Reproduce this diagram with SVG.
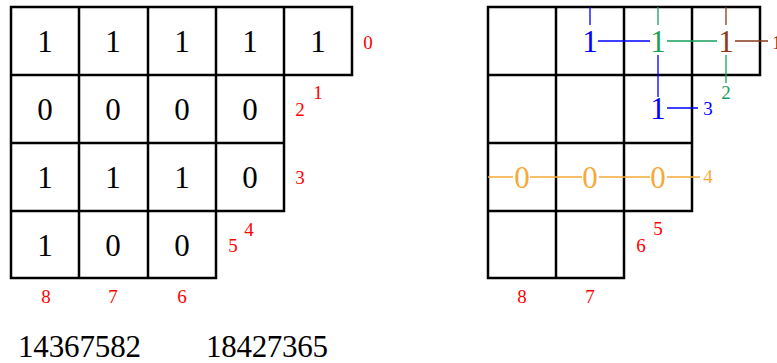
<svg xmlns="http://www.w3.org/2000/svg" width="777" height="363" viewBox="0 0 777 363">
<style>
.g{fill:none;stroke:#000;stroke-width:2.5;stroke-linecap:square}
.big{font-family:"Liberation Serif","DejaVu Serif",serif;font-size:31px;text-anchor:middle}
.sm{font-family:"Liberation Serif","DejaVu Serif",serif;font-size:19px;text-anchor:middle}
.red{fill:#ff0000}
.bl{stroke:#0000ff;stroke-width:1.3;fill:none}
.gr{stroke:#1aa05c;stroke-width:1.3;fill:none}
.br{stroke:#8b3a1a;stroke-width:1.3;fill:none}
.or{stroke:#f5aa3a;stroke-width:1.3;fill:none}
</style>
<rect width="777" height="363" fill="#fff"/>
<g id="left-grid">
<path class="g" d="M11 7H352V75H11ZM11 75H284V143H11ZM11 143H284V211H11ZM11 211H216V278H11Z M79 7V278 M148 7V278 M216 7V211 M284 7V75"/>
<g class="big" fill="#000">
<text x="45" y="52">1</text><text x="113" y="52">1</text><text x="182" y="52">1</text><text x="250" y="52">1</text><text x="318" y="52">1</text>
<text x="45" y="120">0</text><text x="113" y="120">0</text><text x="182" y="120">0</text><text x="250" y="120">0</text>
<text x="45" y="188">1</text><text x="113" y="188">1</text><text x="182" y="188">1</text><text x="250" y="188">0</text>
<text x="45" y="256">1</text><text x="113" y="256">0</text><text x="182" y="256">0</text>
</g>
<g class="sm red">
<text x="368" y="49">0</text><text x="318" y="99">1</text><text x="300" y="116">2</text><text x="300" y="184">3</text>
<text x="249" y="236">4</text><text x="233" y="252">5</text>
<text x="46" y="303">8</text><text x="113" y="303">7</text><text x="182" y="303">6</text>
</g>
</g>
<g id="right-grid">
<path class="g" d="M488 7H760V75H488ZM488 75H692V143H488ZM488 143H692V211H488ZM488 211H624V278H488Z M556 7V278 M624 7V278 M692 7V75"/>
</g>
<g id="connectors">
<path class="bl" d="M590 7V25 M598 41H650 M658 55V97 M667 108H698"/>
<path class="gr" d="M658 7V25 M667 41H717 M726 55V83"/>
<path class="br" d="M726 7V25 M735 41H768"/>
<path class="or" d="M488 177H513 M530 177H582 M599 177H650 M667 177H700"/>
</g>
<g id="right-labels">
<text class="big" x="590" y="52" fill="#0000ff">1</text>
<text class="big" x="658" y="52" fill="#1aa05c">1</text>
<text class="big" x="726" y="52" fill="#8b3a1a">1</text>
<text class="sm" x="772" y="49" fill="#8b3a1a" text-anchor="start" style="text-anchor:start">1</text>
<text class="big" x="658" y="119" fill="#0000ff">1</text>
<text class="sm" x="708" y="115" fill="#0000ff">3</text>
<text class="sm" x="726" y="99" fill="#1aa05c">2</text>
<text class="big" x="522" y="188" fill="#f5aa3a">0</text>
<text class="big" x="590" y="188" fill="#f5aa3a">0</text>
<text class="big" x="658" y="188" fill="#f5aa3a">0</text>
<text class="sm" x="708" y="183" fill="#f5aa3a">4</text>
<g class="sm red">
<text x="658" y="235">5</text><text x="641" y="252">6</text>
<text x="522" y="303">8</text><text x="590" y="303">7</text>
</g>
</g>
<g id="words" font-family="Liberation Serif, DejaVu Serif, serif" font-size="31">
<text x="18" y="357" textLength="123">14367582</text>
<text x="206" y="357" textLength="122">18427365</text>
</g>
</svg>
